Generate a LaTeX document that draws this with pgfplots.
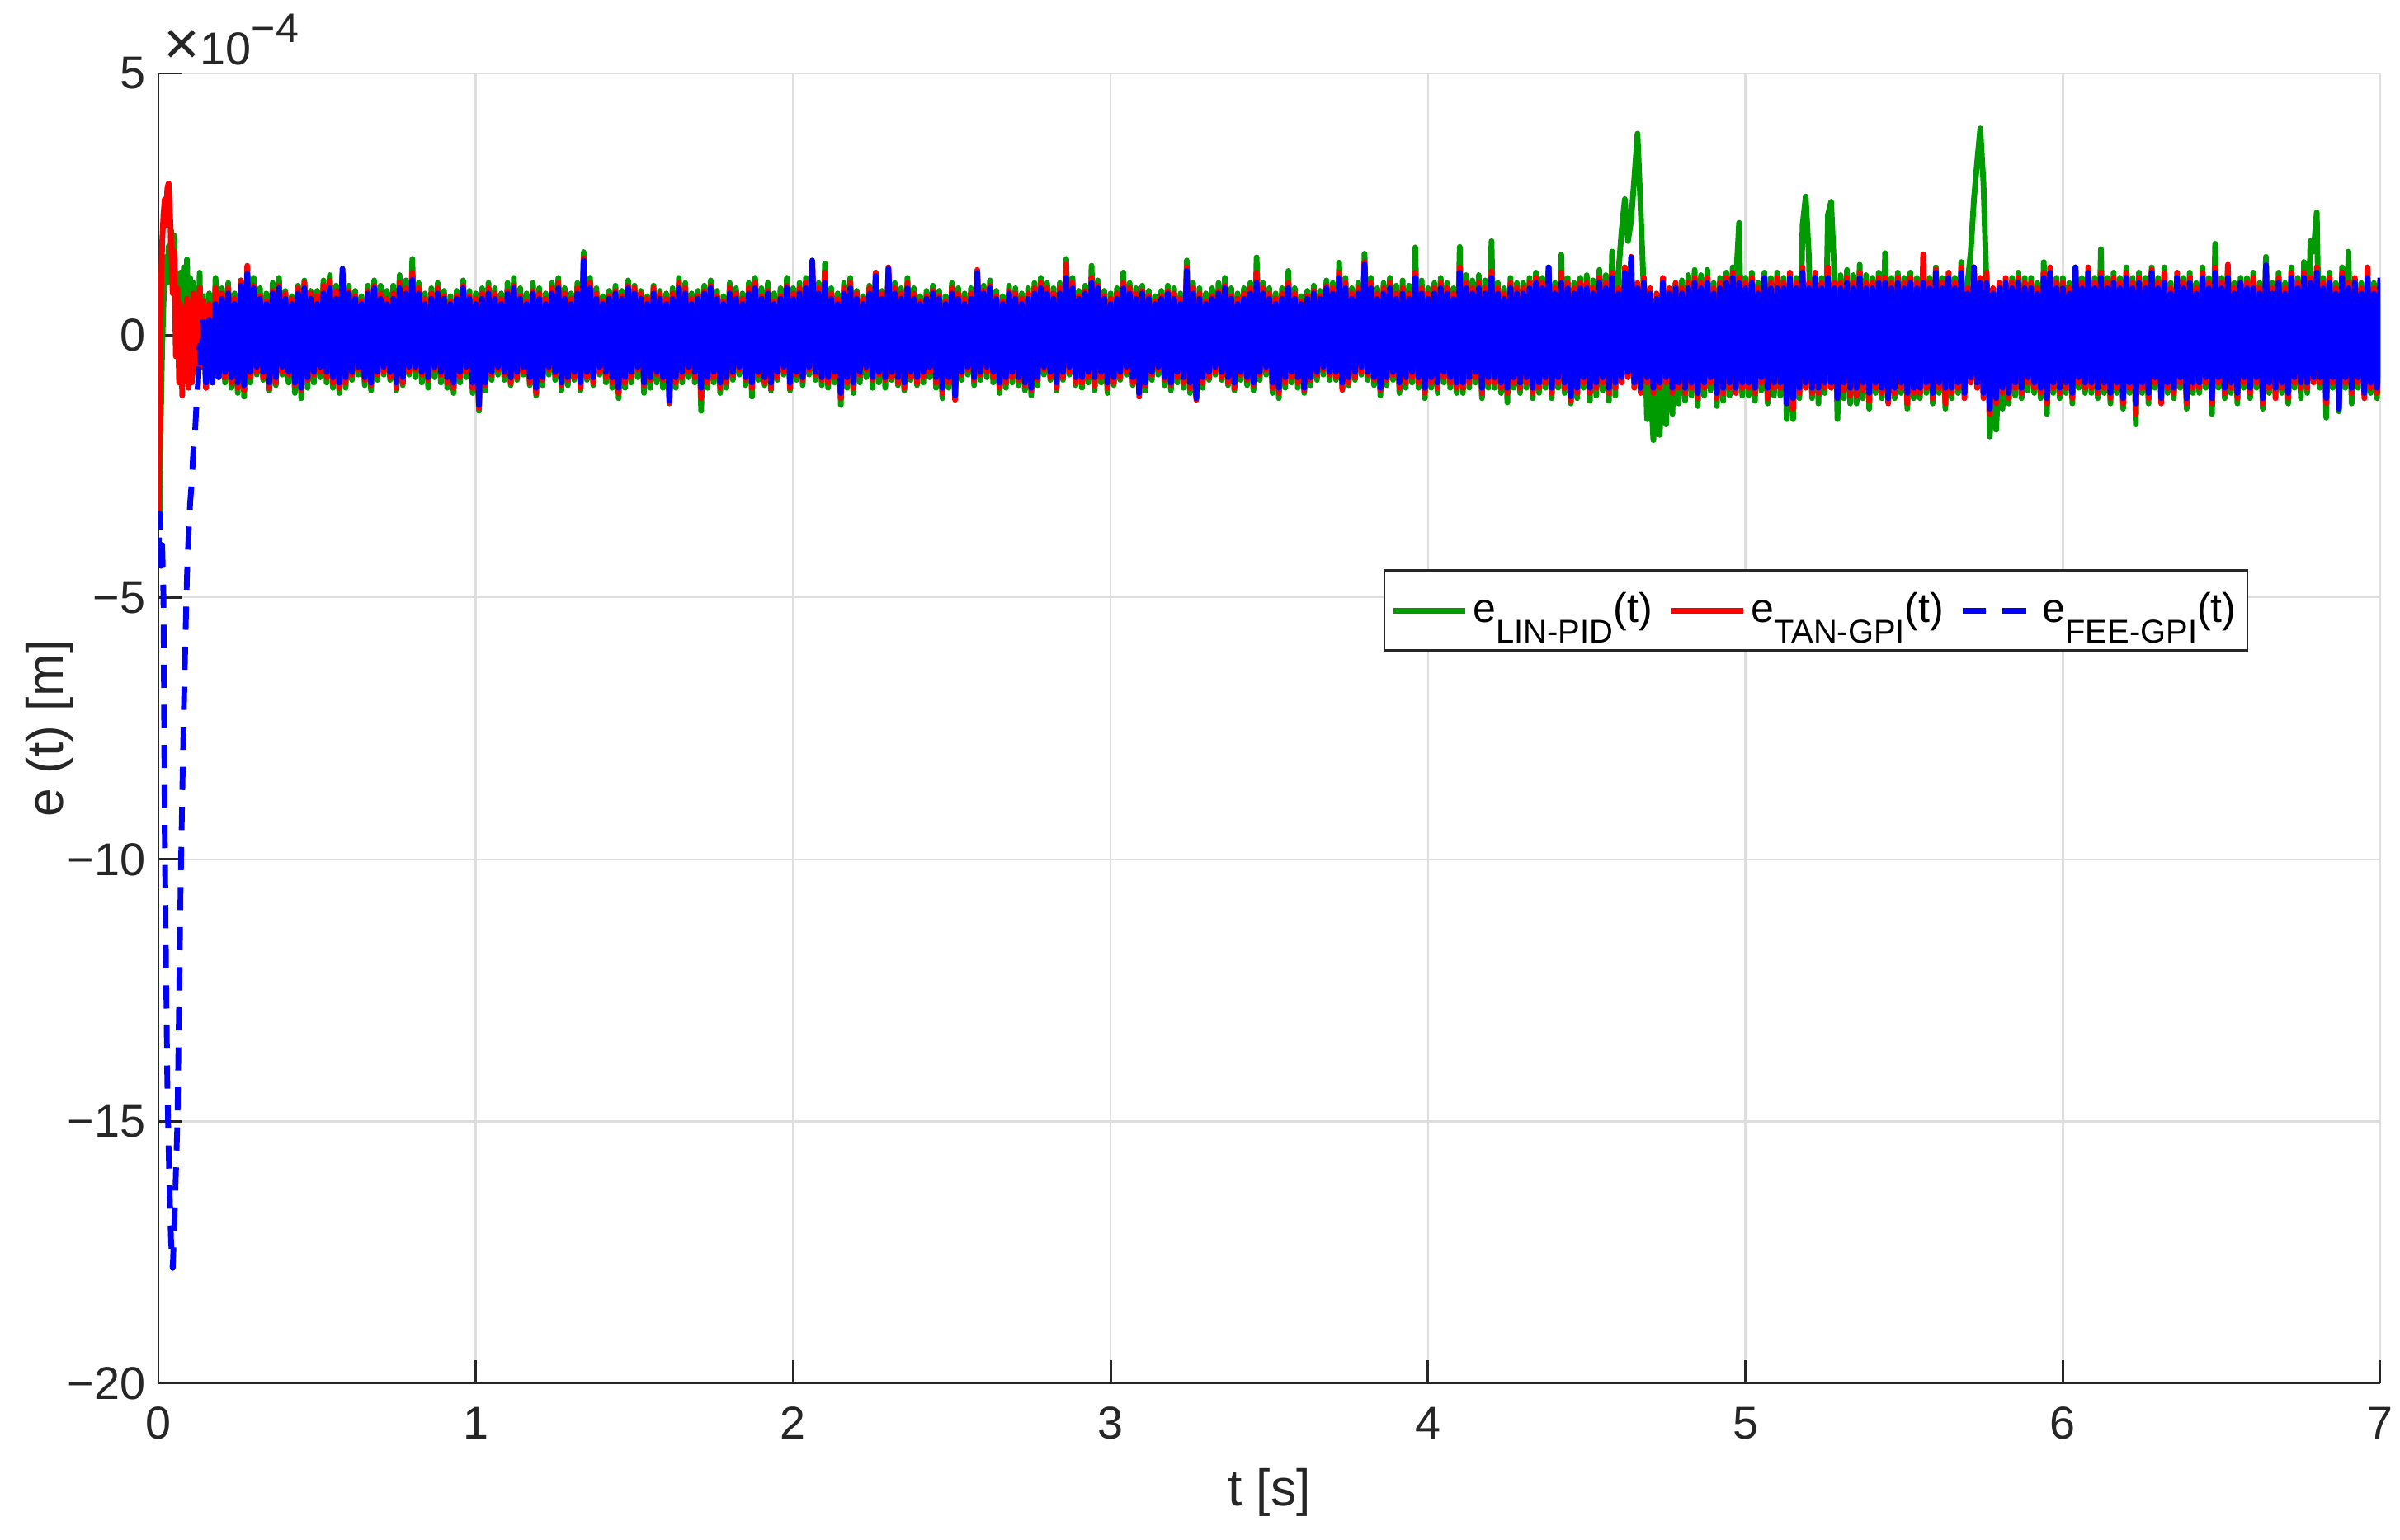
\documentclass[border=0pt]{standalone}
\usepackage{fontspec}
\setmainfont{Liberation Sans}
\usepackage{graphicx}
\usepackage{pgfplots}
\pgfplotsset{compat=1.18}
\usepackage{pgfplotstable}

\definecolor{mgreen}{RGB}{0,155,0}
\definecolor{axgray}{RGB}{38,38,38}

% values in units of 1e-4 m
\pgfplotstableread{
t g r b
0.000 -3.2 -3.5 -4.3
0.004 -3.6 -1.5 -3.4
0.008 -1.5 0.8 -4.4
0.012 -0.2 1.8 -4.0
0.016 0.6 2.3 -5.0
0.020 1.2 2.6 -9.5
0.024 1.5 2.1 -12.0
0.028 1.0 2.8 -14.2
0.032 1.7 2.9 -15.5
0.036 1.2 2.4 -16.5
0.040 2.0 1.8 -17.3
0.045 1.3 0.8 -17.8
0.050 1.9 1.6 -17.0
0.055 0.4 -0.4 -16.0
0.060 1.1 0.9 -15.0
0.065 0.2 -0.9 -12.8
0.070 1.2 0.6 -10.5
0.075 -0.2 -1.15 -8.8
0.080 1.3 0.5 -7.2
0.085 0.3 -0.8 -5.8
0.090 1.45 0.7 -4.6
0.095 0.1 -1.0 -3.8
0.100 1.1 0.6 -3.2
0.105 -0.3 -0.9 -2.8
0.110 1.0 0.8 -2.2
0.115 -0.2 -0.7 -1.9
0.120 0.9 0.7 -1.3
0.125 -0.4 -0.8 -0.9
0.130 1.2 0.9 -0.2
0.135 -0.5 -0.6 -0.7
0.140 0.8 0.7 0.3
}\transT

\pgfplotstableread{
t g r b
0.14 0.8 0.7 0.3
0.15 -1.0 -1.0 -0.9
0.16 0.8 0.6 0.3
0.17 -0.9 -0.9 -0.9
0.18 1.1 0.9 0.6
0.19 -0.8 -0.8 -0.8
0.20 0.9 0.8 0.7
0.21 -0.9 -0.8 -0.7
0.22 1.0 0.9 0.8
0.23 -1.0 -0.9 -0.8
0.24 0.8 0.7 0.6
0.25 -1.1 -1.0 -0.9
0.26 1.05 1.05 0.95
0.27 -1.17 -1.05 -0.95
0.28 1.2 1.33 1.18
0.29 -0.9 -0.8 -0.7
0.30 1.1 0.95 0.9
0.31 -0.75 -0.7 -0.6
0.32 0.9 0.75 0.7
0.33 -0.85 -0.8 -0.7
0.34 0.8 0.65 0.6
0.35 -1.05 -1.0 -0.9
0.36 1.0 0.85 0.8
0.37 -0.95 -0.9 -0.8
0.38 1.1 0.95 0.9
0.39 -0.75 -0.7 -0.6
0.40 0.85 0.8 0.7
0.41 -0.9 -0.75 -0.7
0.42 0.75 0.7 0.6
0.43 -1.1 -0.95 -0.9
0.44 0.95 0.9 0.8
0.45 -1.2 -1.05 -1.0
0.46 1.05 1.0 0.9
0.47 -1.0 -0.85 -0.8
0.48 0.85 0.8 0.7
0.49 -0.9 -0.75 -0.7
0.50 0.85 0.75 0.6
0.51 -0.8 -0.7 -0.6
0.52 1.05 0.95 0.8
0.53 -0.9 -0.8 -0.7
0.54 1.15 1.05 0.9
0.55 -1.0 -0.9 -0.8
0.56 0.95 0.85 0.7
0.57 -1.1 -1.0 -0.9
0.58 1.15 1.2 1.27
0.59 -1.0 -0.9 -0.8
0.60 0.95 0.85 0.8
0.61 -0.85 -0.75 -0.7
0.62 0.85 0.75 0.7
0.63 -0.75 -0.65 -0.6
0.64 0.75 0.65 0.6
0.65 -0.95 -0.85 -0.8
0.66 0.95 0.85 0.8
0.67 -1.05 -0.95 -0.9
0.68 1.05 0.95 0.9
0.69 -0.85 -0.75 -0.7
0.70 0.95 0.8 0.7
0.71 -0.75 -0.7 -0.6
0.72 0.85 0.7 0.6
0.73 -0.85 -0.8 -0.7
0.74 0.95 0.8 0.7
0.75 -1.05 -1.0 -0.9
0.76 1.15 1.0 0.9
0.77 -0.95 -0.9 -0.8
0.78 1.05 0.9 0.8
0.79 -0.75 -0.7 -0.6
0.80 1.46 1.2 1.06
0.81 -0.8 -0.65 -0.6
0.82 1.0 0.9 0.8
0.83 -0.9 -0.75 -0.7
0.84 0.8 0.7 0.6
0.85 -1.0 -0.85 -0.8
0.86 0.9 0.8 0.7
0.87 -0.8 -0.65 -0.6
0.88 1.0 0.9 0.8
0.89 -0.9 -0.75 -0.7
0.90 0.85 0.75 0.7
0.91 -1.0 -0.9 -0.8
0.92 0.75 0.65 0.6
0.93 -1.1 -1.0 -0.9
0.94 0.85 0.75 0.7
0.95 -0.9 -0.8 -0.7
0.96 1.05 0.95 0.9
0.97 -0.8 -0.7 -0.6
0.98 0.85 0.75 0.7
0.99 -1.1 -1.0 -0.9
1.00 0.8 0.7 0.6
1.01 -1.44 -1.38 -1.33
1.02 0.9 0.8 0.7
1.03 -1.05 -0.95 -0.9
1.04 1.0 0.9 0.8
1.05 -0.85 -0.75 -0.7
1.06 0.9 0.8 0.7
1.07 -0.75 -0.65 -0.6
1.08 0.8 0.7 0.6
1.09 -0.85 -0.75 -0.7
1.10 1.0 0.85 0.8
1.11 -0.95 -0.9 -0.8
1.12 1.1 0.95 0.9
1.13 -0.85 -0.8 -0.7
1.14 0.9 0.75 0.7
1.15 -0.75 -0.7 -0.6
1.16 0.8 0.65 0.6
1.17 -0.95 -0.9 -0.8
1.18 1.0 0.85 0.8
1.19 -1.15 -1.1 -1.0
1.20 0.9 0.8 0.7
1.21 -0.95 -0.85 -0.8
1.22 0.8 0.7 0.6
1.23 -0.75 -0.65 -0.6
1.24 1.0 0.9 0.8
1.25 -0.85 -0.75 -0.7
1.26 1.1 1.0 0.9
1.27 -1.05 -0.95 -0.9
1.28 0.9 0.8 0.7
1.29 -0.95 -0.85 -0.8
1.30 0.8 0.7 0.6
1.31 -0.85 -0.8 -0.7
1.32 1.0 0.9 0.8
1.33 -1.05 -1.0 -0.9
1.34 1.59 1.48 1.43
1.35 -0.85 -0.8 -0.7
1.36 1.1 1.0 0.9
1.37 -0.95 -0.9 -0.8
1.38 0.9 0.8 0.7
1.39 -0.75 -0.7 -0.6
1.40 0.75 0.65 0.6
1.41 -0.9 -0.8 -0.7
1.42 0.85 0.75 0.7
1.43 -1.0 -0.9 -0.8
1.44 0.95 0.85 0.8
1.45 -1.2 -1.1 -1.0
1.46 0.85 0.75 0.7
1.47 -1.0 -0.9 -0.8
1.48 1.05 0.95 0.9
1.49 -0.9 -0.8 -0.7
1.50 0.95 0.9 0.8
1.51 -0.8 -0.65 -0.6
1.52 0.85 0.8 0.7
1.53 -1.1 -0.95 -0.9
1.54 0.75 0.7 0.6
1.55 -1.0 -0.85 -0.8
1.56 0.95 0.9 0.8
1.57 -0.9 -0.75 -0.7
1.58 0.85 0.8 0.7
1.59 -1.0 -0.85 -0.8
1.60 0.8 0.7 0.6
1.61 -1.3 -1.28 -1.25
1.62 0.9 0.8 0.7
1.63 -1.0 -0.9 -0.8
1.64 1.1 1.0 0.9
1.65 -0.9 -0.8 -0.7
1.66 1.0 0.9 0.8
1.67 -0.8 -0.7 -0.6
1.68 0.8 0.7 0.6
1.69 -0.9 -0.8 -0.7
1.70 0.85 0.75 0.7
1.71 -1.44 -1.2 -1.0
1.72 0.95 0.85 0.8
1.73 -1.0 -0.9 -0.8
1.74 1.05 0.95 0.9
1.75 -0.9 -0.8 -0.7
1.76 0.85 0.75 0.7
1.77 -1.1 -1.0 -0.9
1.78 0.75 0.65 0.6
1.79 -1.0 -0.9 -0.8
1.80 1.0 0.9 0.8
1.81 -0.85 -0.75 -0.7
1.82 0.9 0.8 0.7
1.83 -0.75 -0.65 -0.6
1.84 0.8 0.7 0.6
1.85 -0.95 -0.85 -0.8
1.86 1.0 0.9 0.8
1.87 -1.17 -1.0 -0.9
1.88 1.1 1.0 0.9
1.89 -0.85 -0.75 -0.7
1.90 0.9 0.75 0.7
1.91 -0.95 -0.9 -0.8
1.92 1.0 0.85 0.8
1.93 -1.05 -1.0 -0.9
1.94 0.8 0.65 0.6
1.95 -0.85 -0.8 -0.7
1.96 0.9 0.75 0.7
1.97 -0.75 -0.7 -0.6
1.98 1.1 0.95 0.9
1.99 -1.05 -1.0 -0.9
2.00 0.9 0.8 0.7
2.01 -0.85 -0.75 -0.7
2.02 1.0 0.9 0.8
2.03 -0.95 -0.85 -0.8
2.04 1.1 1.0 0.9
2.05 -0.75 -0.65 -0.6
2.06 1.3 1.4 1.43
2.07 -0.85 -0.75 -0.7
2.08 1.0 0.9 0.8
2.09 -0.95 -0.85 -0.8
2.10 1.37 1.2 1.0
2.11 -1.0 -0.9 -0.8
2.12 0.9 0.8 0.7
2.13 -0.9 -0.8 -0.7
2.14 0.8 0.7 0.6
2.15 -1.33 -1.2 -1.1
2.16 1.0 0.9 0.8
2.17 -1.0 -0.9 -0.8
2.18 1.1 1.0 0.9
2.19 -1.1 -1.0 -0.9
2.20 0.85 0.8 0.7
2.21 -0.9 -0.75 -0.7
2.22 0.75 0.7 0.6
2.23 -0.8 -0.65 -0.6
2.24 0.95 0.9 0.8
2.25 -1.0 -0.85 -0.8
2.26 1.2 1.2 1.14
2.27 -0.9 -0.75 -0.7
2.28 0.85 0.8 0.7
2.29 -1.0 -0.85 -0.8
2.30 1.2 1.3 1.27
2.31 -0.85 -0.8 -0.7
2.32 1.0 0.9 0.8
2.33 -0.95 -0.9 -0.8
2.34 0.9 0.8 0.7
2.35 -1.05 -1.0 -0.9
2.36 1.1 1.0 0.9
2.37 -0.85 -0.8 -0.7
2.38 0.9 0.8 0.7
2.39 -0.95 -0.9 -0.8
2.40 0.75 0.65 0.6
2.41 -0.9 -0.8 -0.7
2.42 0.85 0.75 0.7
2.43 -0.8 -0.7 -0.6
2.44 0.95 0.85 0.8
2.45 -1.0 -0.9 -0.8
2.46 0.85 0.75 0.7
2.47 -1.2 -1.1 -1.0
2.48 0.75 0.65 0.6
2.49 -1.0 -0.9 -0.8
2.50 1.0 0.9 0.8
2.51 -1.2 -1.23 -1.15
2.52 0.9 0.8 0.7
2.53 -0.85 -0.75 -0.7
2.54 0.8 0.7 0.6
2.55 -0.75 -0.65 -0.6
2.56 0.9 0.8 0.7
2.57 -0.95 -0.85 -0.8
2.58 1.2 1.25 1.19
2.59 -0.85 -0.75 -0.7
2.60 0.95 0.85 0.8
2.61 -0.8 -0.7 -0.6
2.62 1.05 0.95 0.9
2.63 -0.9 -0.8 -0.7
2.64 0.85 0.75 0.7
2.65 -1.1 -1.0 -0.9
2.66 0.75 0.65 0.6
2.67 -1.0 -0.9 -0.8
2.68 0.95 0.85 0.8
2.69 -0.9 -0.8 -0.7
2.70 0.9 0.8 0.7
2.71 -0.95 -0.85 -0.8
2.72 0.8 0.7 0.6
2.73 -1.05 -0.95 -0.9
2.74 0.9 0.8 0.7
2.75 -1.15 -1.05 -1.0
2.76 1.0 0.9 0.8
2.77 -0.95 -0.85 -0.8
2.78 1.1 1.0 0.9
2.79 -0.75 -0.65 -0.6
2.80 1.0 0.9 0.8
2.81 -0.85 -0.8 -0.7
2.82 0.9 0.8 0.7
2.83 -1.05 -1.0 -0.9
2.84 1.0 0.9 0.8
2.85 -0.85 -0.8 -0.7
2.86 1.46 1.35 1.1
2.87 -0.75 -0.7 -0.6
2.88 1.1 1.0 0.9
2.89 -0.95 -0.9 -0.8
2.90 0.85 0.75 0.7
2.91 -1.0 -0.9 -0.8
2.92 0.95 0.85 0.8
2.93 -0.9 -0.8 -0.7
2.94 1.33 1.1 1.0
2.95 -1.05 -0.96 -0.8
2.96 1.05 0.95 0.9
2.97 -0.9 -0.8 -0.7
2.98 0.85 0.75 0.7
2.99 -1.1 -1.0 -0.9
3.00 0.8 0.7 0.6
3.01 -0.95 -0.9 -0.8
3.02 0.9 0.8 0.7
3.03 -0.85 -0.8 -0.7
3.04 1.2 1.0 0.9
3.05 -0.75 -0.7 -0.6
3.06 1.0 0.9 0.8
3.07 -0.95 -0.9 -0.8
3.08 0.9 0.8 0.7
3.09 -1.1 -1.17 -1.1
3.10 0.95 0.85 0.8
3.11 -1.05 -0.95 -0.9
3.12 0.85 0.75 0.7
3.13 -0.85 -0.75 -0.7
3.14 0.75 0.65 0.6
3.15 -0.75 -0.65 -0.6
3.16 0.85 0.75 0.7
3.17 -0.95 -0.85 -0.8
3.18 0.95 0.85 0.8
3.19 -1.05 -0.95 -0.9
3.20 0.9 0.8 0.7
3.21 -0.9 -0.8 -0.7
3.22 0.8 0.7 0.6
3.23 -1.0 -0.9 -0.8
3.24 1.43 1.3 1.23
3.25 -1.1 -1.0 -0.9
3.26 1.0 0.9 0.8
3.27 -1.15 -1.23 -1.2
3.28 0.9 0.8 0.7
3.29 -1.0 -0.9 -0.8
3.30 0.8 0.65 0.6
3.31 -0.85 -0.8 -0.7
3.32 0.9 0.75 0.7
3.33 -0.75 -0.7 -0.6
3.34 1.0 0.85 0.8
3.35 -0.85 -0.8 -0.7
3.36 1.1 0.95 0.9
3.37 -0.95 -0.9 -0.8
3.38 0.9 0.75 0.7
3.39 -1.05 -1.0 -0.9
3.40 0.8 0.7 0.6
3.41 -0.85 -0.75 -0.7
3.42 0.9 0.8 0.7
3.43 -0.95 -0.85 -0.8
3.44 1.0 0.9 0.8
3.45 -1.05 -0.95 -0.9
3.46 1.49 1.2 1.0
3.47 -0.85 -0.75 -0.7
3.48 1.0 0.9 0.8
3.49 -0.75 -0.65 -0.6
3.50 0.9 0.8 0.7
3.51 -1.1 -1.0 -0.9
3.52 0.8 0.7 0.6
3.53 -1.2 -1.1 -1.0
3.54 0.9 0.8 0.7
3.55 -1.0 -0.9 -0.8
3.56 1.23 1.0 0.9
3.57 -0.9 -0.8 -0.7
3.58 0.9 0.8 0.7
3.59 -1.0 -0.9 -0.8
3.60 0.75 0.65 0.6
3.61 -1.1 -1.05 -1.0
3.62 0.85 0.75 0.7
3.63 -0.95 -0.85 -0.8
3.64 0.95 0.85 0.8
3.65 -0.85 -0.75 -0.7
3.66 0.85 0.75 0.7
3.67 -0.75 -0.65 -0.6
3.68 1.05 0.95 0.9
3.69 -0.85 -0.75 -0.7
3.70 1.0 0.9 0.8
3.71 -0.85 -0.8 -0.7
3.72 1.39 1.2 1.1
3.73 -1.0 -1.04 -0.9
3.74 1.1 1.0 0.9
3.75 -0.95 -0.9 -0.8
3.76 0.9 0.8 0.7
3.77 -0.85 -0.8 -0.7
3.78 1.0 0.9 0.8
3.79 -0.75 -0.7 -0.6
3.80 1.56 1.4 1.35
3.81 -0.85 -0.75 -0.7
3.82 1.1 1.0 0.9
3.83 -0.95 -0.85 -0.8
3.84 0.9 0.8 0.7
3.85 -1.15 -1.05 -1.0
3.86 1.0 0.9 0.8
3.87 -0.95 -0.85 -0.8
3.88 1.1 1.0 0.9
3.89 -0.85 -0.75 -0.7
3.90 0.95 0.8 0.7
3.91 -1.1 -1.0 -0.9
3.92 1.05 0.9 0.8
3.93 -1.0 -0.9 -0.8
3.94 0.95 0.8 0.7
3.95 -0.9 -0.8 -0.7
3.96 1.68 1.2 1.1
3.97 -1.0 -0.9 -0.8
3.98 1.05 0.9 0.8
3.99 -1.2 -1.1 -1.0
4.00 0.9 0.8 0.7
4.01 -1.0 -0.9 -0.8
4.02 1.0 0.9 0.8
4.03 -1.1 -1.0 -0.9
4.04 1.1 1.0 0.9
4.05 -0.9 -0.8 -0.7
4.06 1.0 0.9 0.8
4.07 -1.0 -0.9 -0.8
4.08 0.9 0.8 0.7
4.09 -1.1 -1.0 -0.9
4.10 1.69 1.3 1.2
4.11 -1.1 -1.0 -0.9
4.12 1.15 1.0 0.9
4.13 -1.0 -0.9 -0.8
4.14 1.05 0.9 0.8
4.15 -0.9 -0.8 -0.7
4.16 1.15 1.0 0.9
4.17 -1.2 -1.1 -1.0
4.18 1.05 0.9 0.8
4.19 -1.0 -0.9 -0.8
4.20 1.8 1.22 1.1
4.21 -1.0 -0.9 -0.8
4.22 1.0 0.9 0.8
4.23 -1.1 -1.0 -0.9
4.24 0.9 0.8 0.7
4.25 -1.28 -1.1 -1.0
4.26 1.1 1.0 0.9
4.27 -1.0 -0.9 -0.8
4.28 1.0 0.9 0.8
4.29 -1.1 -1.0 -0.9
4.30 1.0 0.9 0.8
4.31 -1.0 -0.9 -0.8
4.32 1.1 1.0 0.9
4.33 -1.2 -1.1 -1.0
4.34 1.2 1.1 1.0
4.35 -1.1 -1.0 -0.9
4.36 1.1 1.0 0.9
4.37 -1.0 -0.9 -0.8
4.38 1.3 1.25 1.3
4.39 -1.2 -1.1 -1.0
4.40 1.0 0.9 0.8
4.41 -1.0 -0.9 -0.8
4.42 1.54 1.2 1.0
4.43 -1.1 -1.0 -0.9
4.44 1.1 1.0 0.9
4.45 -1.3 -1.25 -1.17
4.46 1.0 0.9 0.8
4.47 -1.2 -1.1 -1.0
4.48 1.1 1.0 0.9
4.49 -1.0 -0.9 -0.8
4.50 1.15 1.0 0.9
4.51 -1.25 -1.1 -1.0
4.52 1.05 0.9 0.8
4.53 -1.15 -1.0 -0.9
4.54 1.25 1.1 1.0
4.55 -1.05 -0.9 -0.8
4.56 1.15 1.0 0.9
4.57 -1.25 -1.1 -1.0
4.58 1.6 1.2 1.1
4.59 -1.15 -1.0 -0.9
4.60 1.2 0.9 0.8
4.61 2.0 -0.9 -0.8
4.62 2.6 1.3 1.2
4.63 1.8 -0.8 -0.7
4.64 2.2 1.5 1.49
4.65 3.0 -1.0 -0.9
4.66 3.85 1.0 0.9
4.67 2.4 -1.1 -1.0
4.68 0.8 1.1 1.0
4.69 -1.6 -0.9 -0.8
4.70 -0.8 0.9 0.8
4.71 -2.0 -1.1 -1.0
4.72 -1.0 0.8 0.7
4.73 -1.9 -1.0 -0.9
4.74 -0.6 1.1 1.0
4.75 -1.7 -0.9 -0.8
4.76 0.6 0.9 0.8
4.77 -1.5 -1.1 -1.0
4.78 1.0 1.0 0.9
4.79 -1.3 -1.0 -0.9
4.80 1.05 0.9 0.8
4.81 -1.25 -1.1 -1.0
4.82 1.15 1.0 0.9
4.83 -1.15 -1.0 -0.9
4.84 1.25 1.1 1.0
4.85 -1.35 -1.2 -1.1
4.86 1.15 1.0 0.9
4.87 -1.15 -1.0 -0.9
4.88 1.25 1.1 1.0
4.89 -1.05 -0.9 -0.8
4.90 1.0 0.9 0.8
4.91 -1.35 -1.2 -1.1
4.92 1.1 1.0 0.9
4.93 -1.25 -1.1 -1.0
4.94 1.2 1.1 1.0
4.95 -1.15 -1.0 -0.9
4.96 1.3 1.2 1.1
4.97 1.0 -1.1 -1.0
4.98 2.15 1.1 1.0
4.99 -1.15 -1.0 -0.9
5.00 1.1 1.0 0.9
5.01 -1.15 -1.0 -0.9
5.02 1.2 1.1 1.0
5.03 -1.25 -1.1 -1.0
5.04 1.0 0.9 0.8
5.05 -1.05 -0.9 -0.8
5.06 1.2 1.0 1.1
5.07 -1.3 -1.2 -1.0
5.08 1.1 1.0 0.9
5.09 -1.15 -1.0 -0.9
5.10 1.2 1.1 0.9
5.11 -1.15 -1.0 -0.9
5.12 1.1 1.0 0.9
5.13 -1.6 -1.3 -1.3
5.14 1.0 1.2 1.1
5.15 -1.6 -1.4 -1.2
5.16 1.1 1.0 0.9
5.17 -1.2 -1.1 -1.0
5.18 2.1 1.3 1.2
5.19 2.65 -1.0 -0.9
5.20 1.5 1.0 0.9
5.21 -1.2 -1.1 -1.0
5.22 1.1 1.2 1.1
5.23 -1.3 -1.1 -1.0
5.24 1.1 1.0 0.9
5.25 -1.1 -1.0 -0.9
5.26 2.3 1.3 1.1
5.27 2.55 -1.0 -0.9
5.28 1.2 1.0 0.9
5.29 -1.6 -1.2 -1.2
5.30 1.15 1.0 0.9
5.31 -1.2 -1.05 -0.9
5.32 1.25 1.1 1.0
5.33 -1.3 -1.15 -1.0
5.34 1.15 1.0 0.9
5.35 -1.3 -1.15 -1.0
5.36 1.35 1.2 1.1
5.37 -1.2 -1.05 -0.9
5.38 1.15 1.0 0.9
5.39 -1.4 -1.25 -1.1
5.40 1.1 1.0 0.9
5.41 -1.1 -1.0 -0.9
5.42 1.2 1.1 1.0
5.43 -1.2 -1.1 -1.0
5.44 1.57 1.1 1.0
5.45 -1.1 -1.3 -1.2
5.46 1.1 1.0 0.9
5.47 -1.2 -1.1 -1.0
5.48 1.2 1.1 1.0
5.49 -1.1 -1.0 -0.9
5.50 1.1 1.0 0.9
5.51 -1.4 -1.3 -1.1
5.52 1.2 1.1 1.0
5.53 -1.2 -1.1 -1.0
5.54 1.1 1.0 0.9
5.55 -1.2 -1.1 -1.0
5.56 1.3 1.55 1.0
5.57 -1.1 -1.0 -0.9
5.58 1.1 1.0 0.9
5.59 -1.3 -1.2 -1.1
5.60 1.3 1.25 1.2
5.61 -1.1 -1.0 -0.9
5.62 1.1 1.0 0.9
5.63 -1.4 -1.3 -1.0
5.64 1.1 1.2 1.1
5.65 -1.2 -1.1 -1.0
5.66 1.1 1.0 0.9
5.67 -1.1 -1.0 -0.9
5.68 1.4 1.3 1.2
5.69 -1.1 -1.2 -1.1
5.70 1.0 0.9 0.8
5.71 1.6 -0.9 -0.8
5.72 2.6 1.3 1.3
5.73 3.3 -1.0 -0.9
5.74 3.95 1.1 1.0
5.75 2.9 -1.2 -1.1
5.76 0.9 1.2 1.0
5.77 -1.93 -1.5 -1.4
5.78 -0.8 0.9 0.8
5.79 -1.8 -1.3 -1.2
5.80 -0.5 1.0 0.9
5.81 -1.4 -1.1 -1.0
5.82 0.9 1.1 1.0
5.83 -1.3 -1.2 -1.1
5.84 1.1 1.0 0.9
5.85 -1.15 -1.0 -0.9
5.86 1.2 1.1 1.0
5.87 -1.2 -1.1 -1.0
5.88 1.1 1.0 0.9
5.89 -1.05 -0.9 -0.8
5.90 1.1 1.0 0.9
5.91 -1.1 -1.0 -0.9
5.92 1.0 0.9 0.8
5.93 -1.2 -1.1 -1.0
5.94 1.4 1.2 1.1
5.95 -1.5 -1.3 -1.2
5.96 1.2 1.3 1.2
5.97 -1.1 -1.0 -0.9
5.98 1.1 1.0 0.9
5.99 -1.2 -1.1 -1.0
6.00 1.1 1.0 0.9
6.01 -1.1 -1.0 -0.9
6.02 1.0 0.9 0.8
6.03 -1.3 -1.2 -1.1
6.04 1.3 1.2 1.3
6.05 -1.0 -0.9 -0.8
6.06 1.1 1.0 0.9
6.07 -1.1 -1.0 -0.9
6.08 1.2 1.3 1.2
6.09 -1.1 -1.0 -0.9
6.10 1.1 1.0 0.9
6.11 -1.2 -1.1 -1.0
6.12 1.65 1.2 1.1
6.13 -1.1 -1.0 -0.9
6.14 1.1 1.0 0.9
6.15 -1.3 -1.2 -1.1
6.16 1.2 1.1 1.0
6.17 -1.1 -1.0 -0.9
6.18 1.1 1.0 0.9
6.19 -1.4 -1.3 -1.2
6.20 1.3 1.2 1.1
6.21 -1.1 -1.0 -0.9
6.22 1.1 1.0 0.9
6.23 -1.7 -1.5 -1.3
6.24 1.2 1.1 1.0
6.25 -1.1 -1.0 -0.9
6.26 1.1 1.0 0.9
6.27 -1.3 -1.2 -1.1
6.28 1.3 1.25 1.2
6.29 -1.0 -0.9 -0.8
6.30 1.1 1.0 0.9
6.31 -1.1 -1.3 -1.2
6.32 1.3 1.2 1.0
6.33 -1.1 -1.0 -0.9
6.34 1.0 0.9 0.8
6.35 -1.2 -1.1 -1.0
6.36 1.1 1.2 1.1
6.37 -1.0 -0.9 -0.8
6.38 1.1 1.0 0.9
6.39 -1.4 -1.3 -1.2
6.40 1.2 1.1 1.0
6.41 -1.1 -1.0 -0.9
6.42 1.0 0.9 0.8
6.43 -1.1 -1.0 -0.9
6.44 1.3 1.2 1.1
6.45 -1.0 -0.9 -0.8
6.46 1.1 1.0 0.9
6.47 -1.5 -1.3 -1.2
6.48 1.75 1.3 1.2
6.49 -1.0 -0.9 -0.8
6.50 1.1 1.0 0.9
6.51 -1.2 -1.1 -1.0
6.52 1.3 1.35 1.1
6.53 -1.1 -1.0 -0.9
6.54 1.0 0.9 0.8
6.55 -1.3 -1.2 -1.1
6.56 1.1 1.0 1.0
6.57 -1.0 -0.9 -0.8
6.58 1.1 1.0 0.9
6.59 -1.2 -1.1 -1.0
6.60 1.2 1.1 0.9
6.61 -1.0 -0.9 -0.8
6.62 1.0 0.9 0.8
6.63 -1.4 -1.3 -1.2
6.64 1.5 1.3 1.34
6.65 -1.1 -1.0 -0.9
6.66 1.0 0.9 0.8
6.67 -1.1 -1.2 -1.0
6.68 1.2 1.1 1.0
6.69 -1.1 -1.0 -0.9
6.70 1.0 0.9 0.8
6.71 -1.3 -1.2 -1.1
6.72 1.3 1.2 1.1
6.73 -1.0 -0.9 -0.8
6.74 1.1 1.0 0.9
6.75 -1.2 -1.0 -0.9
6.76 1.4 1.2 1.1
6.77 -1.1 -1.0 -0.9
6.78 1.8 1.1 1.0
6.79 1.6 -0.9 -0.8
6.80 2.35 1.3 1.2
6.81 -1.0 -0.9 -0.8
6.82 1.1 1.0 0.9
6.83 -1.57 -1.3 -1.2
6.84 1.2 1.1 1.0
6.85 -1.0 -0.9 -0.8
6.86 1.0 0.9 0.8
6.87 -1.45 -1.3 -1.4
6.88 1.3 1.2 1.1
6.89 -1.0 -0.9 -0.8
6.90 1.6 1.0 0.9
6.91 -1.3 -1.1 -1.0
6.92 1.0 1.1 1.0
6.93 -1.0 -0.9 -0.8
6.94 1.0 0.9 0.8
6.95 -1.1 -1.2 -1.1
6.96 1.1 1.3 1.1
6.97 -1.1 -1.0 -0.9
6.98 1.0 0.9 0.8
6.99 -1.2 -1.1 -1.0
7.00 1.0 1.0 1.1
}\mainT

\newcommand{\sub}[1]{\raisebox{-4.9pt}{\fontsize{7.8}{8}\selectfont #1}}

\begin{document}
\begin{tikzpicture}
\begin{axis}[
  scale only axis,
  width=18.515cm, height=10.918cm,
  xmin=0, xmax=7, ymin=-20, ymax=5,
  axis x line=bottom, axis y line=left,
  axis line style={-, draw=axgray, line width=0.55pt},
  every outer x axis line/.append style={-},
  every outer y axis line/.append style={-},
  xtick={0,1,2,3,4,5,6,7},
  xticklabels={0,1,2,3,4,5,6,7},
  ytick={-20,-15,-10,-5,0,5},
  yticklabels={−20,−15,−10,−5,0,5},
  tick align=inside,
  major tick length=0.19cm,
  tick style={draw=axgray, line width=0.55pt},
  grid=major,
  grid style={draw=black!13, line width=0.5pt},
  ticklabel style={font=\fontsize{10.9}{13}\selectfont, text=axgray},
  xticklabel style={anchor=north, inner sep=0pt, yshift=-0.19cm},
  yticklabel style={anchor=east, inner sep=0pt, xshift=-0.1cm},
  xlabel={t [s]},
  ylabel={e (t) [m]},
  label style={font=\fontsize{12.2}{14}\selectfont, text=axgray},
  xlabel style={at={(axis description cs:0.5,-0.0932)}, anchor=base},
  ylabel style={at={(axis description cs:-0.0428,0.5)}, anchor=base},
  legend columns=3,
  legend cell align=left,
  legend style={at={(0.746,0.590)}, anchor=center, draw=axgray, line width=0.5pt,
    fill=white, font=\fontsize{9.8}{11}\selectfont, inner xsep=1.5pt, inner ysep=4pt,
    nodes={inner sep=1.2pt},
    /tikz/every even column/.append style={column sep=0.09cm}},
]
\addplot[mgreen, line width=1.35pt, line join=round] table[x=t, y=g] {\transT};
\addlegendentry{e\sub{LIN-PID}(t)}
\addplot[mgreen, line width=1.35pt, line join=round, forget plot] table[x=t, y=g] {\mainT};
\addplot[red, line width=1.35pt, line join=round] table[x=t, y=r] {\transT};
\addlegendentry{e\sub{TAN-GPI}(t)}
\addplot[red, line width=1.35pt, line join=round, forget plot] table[x=t, y=r] {\mainT};
\addplot[blue, line width=1.35pt, line join=round, dash pattern=on 5.5pt off 4pt] table[x=t, y=b] {\transT};
\addlegendentry{e\sub{FEE-GPI}(t)}
\addplot[blue, line width=1.35pt, line join=round, forget plot] table[x=t, y=b] {\mainT};
\end{axis}
\node[anchor=base west, inner sep=0pt, text=axgray, font=\fontsize{10.9}{13}\selectfont]
  at ([xshift=0.04cm, yshift=0.072cm]current axis.north west)
  {\scalebox{1.35}{×}10\raisebox{5.2pt}{\fontsize{9.8}{11}\selectfont −4}};
\pgfresetboundingbox
\useasboundingbox ([shift={(-1.320cm,-1.2995cm)}]current axis.south west)
  rectangle ([shift={(0.165cm,0.612cm)}]current axis.north east);
\end{tikzpicture}
\end{document}
